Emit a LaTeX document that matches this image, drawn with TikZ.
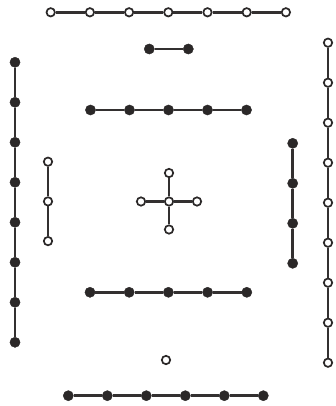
\documentclass[tikz,border=0pt]{standalone}
\usepackage{tikz}
\definecolor{dotgray}{HTML}{2B2828}
\definecolor{bargray}{HTML}{333030}

\begin{document}
\begin{tikzpicture}[x=1pt, y=-1pt,
    dot/.style={circle, fill=dotgray, draw=dotgray, inner sep=0pt, minimum size=10.2pt},
    ring/.style={circle, fill=white, draw=dotgray, line width=1.7pt, inner sep=0pt, minimum size=8.4pt},
    bar/.style={line width=2.8pt, draw=bargray}]
    \useasboundingbox (0,0) rectangle (335,406);
    % top row, open
    \foreach \i in {1,...,7} \node[ring] (t\i) at ({50.7+39.2*(\i-1)},12.3) {};
    \foreach \i [count=\j from 2] in {1,...,6} \draw[bar] (t\i)--(t\j);
    % short pair
    \node[dot] (p1) at (149.3,49) {};
    \node[dot] (p2) at (188.3,49) {};
    \draw[bar] (p1)--(p2);
    % left column, filled
    \foreach \i in {1,...,8} \node[dot] (l\i) at (15,{62.3+40*(\i-1)}) {};
    \foreach \i [count=\j from 2] in {1,...,7} \draw[bar] (l\i)--(l\j);
    % right column, open
    \foreach \i in {1,...,9} \node[ring] (r\i) at (328,{42.7+40*(\i-1)}) {};
    \foreach \i [count=\j from 2] in {1,...,8} \draw[bar] (r\i)--(r\j);
    % upper row, filled
    \foreach \i in {1,...,5} \node[dot] (u\i) at ({90.5+39*(\i-1)},110) {};
    \foreach \i [count=\j from 2] in {1,...,4} \draw[bar] (u\i)--(u\j);
    % small column, open
    \foreach \i in {1,...,3} \node[ring] (s\i) at (48,{161.7+39.7*(\i-1)}) {};
    \foreach \i [count=\j from 2] in {1,...,2} \draw[bar] (s\i)--(s\j);
    % cross
    \node[ring] (c)  at (169,201.5) {};
    \node[ring] (cw) at (141,201.5) {};
    \node[ring] (ce) at (197,201.5) {};
    \node[ring] (cn) at (169,173) {};
    \node[ring] (cs) at (169,229.5) {};
    \draw[bar] (c)--(cw); \draw[bar] (c)--(ce); \draw[bar] (c)--(cn); \draw[bar] (c)--(cs);
    % right inner column, filled
    \foreach \i in {1,...,4} \node[dot] (k\i) at (292.7,{143.3+40*(\i-1)}) {};
    \foreach \i [count=\j from 2] in {1,...,3} \draw[bar] (k\i)--(k\j);
    % lower row, filled
    \foreach \i in {1,...,5} \node[dot] (w\i) at ({90+39.2*(\i-1)},292.3) {};
    \foreach \i [count=\j from 2] in {1,...,4} \draw[bar] (w\i)--(w\j);
    % single open
    \node[ring] (o) at (166,360) {};
    % bottom row, filled
    \foreach \i in {1,...,6} \node[dot] (b\i) at ({68.3+39*(\i-1)},395.7) {};
    \foreach \i [count=\j from 2] in {1,...,5} \draw[bar] (b\i)--(b\j);
\end{tikzpicture}
\end{document}
